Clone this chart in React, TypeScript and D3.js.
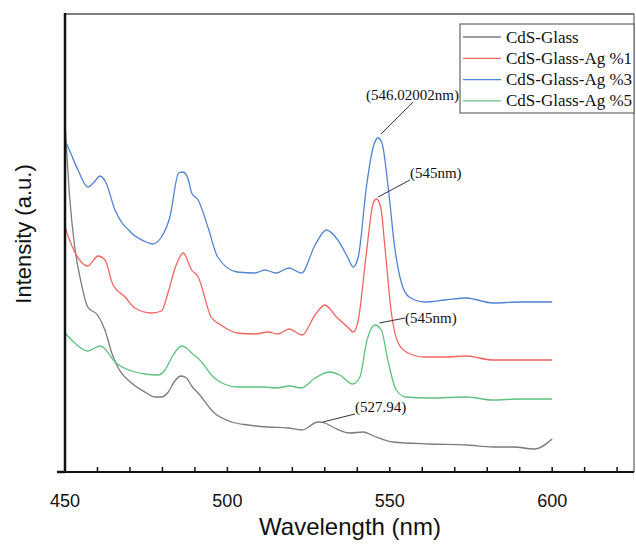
import React from "react";
import * as d3 from "d3";

// Wavelength (nm) / intensity (a.u.) pairs
const glassWl = [450, 451.5, 453, 455, 457, 460, 462.3, 464.4, 466.4, 470.5, 474.6, 477.7, 479.7, 481.8, 483.8, 485.7, 487.4, 489, 491, 496, 501.3, 506.4, 512.5, 518.7, 523, 527.9, 530, 533, 537.7, 541.8, 545, 551, 562, 573.6, 581.8, 588, 594.6, 600];
const glassI = [350, 272, 225, 189, 165, 157, 142, 119, 104, 89, 80, 75, 75, 80, 91, 96, 94, 86, 79, 59, 50, 47, 45, 44, 42, 50, 49, 44, 39, 40, 36, 30, 28, 27, 25, 25, 23, 33];

const ag1Wl = [450, 452, 455, 457, 460.2, 462.3, 464.8, 468.5, 471.5, 476.7, 479.7, 481.7, 484, 486.4, 489, 491, 495, 498, 503, 508.5, 512.5, 515.5, 519, 523, 527, 530, 533.6, 537, 538.8, 540.3, 542.8, 544.9, 545.9, 547.2, 548.5, 550.5, 552.6, 555.6, 560.8, 567, 573.6, 581.7, 590, 600];
const ag1I = [245, 227, 210, 206, 216, 212, 187, 175, 164, 159, 161, 179, 205, 219, 202, 195, 155, 147, 139, 138, 140, 138, 143, 137, 157, 167, 155, 145, 140, 152, 219, 269, 273, 265, 225, 159, 129, 119, 115, 115, 116, 112, 112, 112];

const ag3Wl = [450, 452, 454, 457, 459, 460.8, 462.5, 465.4, 470.5, 475, 477, 479.7, 482.3, 485, 486.3, 488, 489, 491, 494, 497, 503, 508.5, 511.5, 515, 519, 522.8, 527, 530.5, 534, 537, 538.7, 540.3, 542.8, 544.9, 546.4, 547.6, 549.5, 551.5, 553.6, 556, 560.8, 567, 573.6, 581.7, 590, 600];
const ag3I = [332, 317, 302, 285, 290, 296, 290, 262, 239, 230, 228, 235, 255, 299, 300, 292, 279, 272, 245, 215, 200, 199, 202, 199, 204, 199, 227, 242, 232, 215, 205, 215, 285, 325, 334, 329, 285, 225, 189, 175, 170, 172, 174, 169, 170, 170];

const ag5Wl = [450, 453, 457, 460.8, 462, 465.4, 470.5, 474.6, 478.7, 480.8, 483.3, 485.9, 487.4, 489, 491.5, 496, 499, 503, 511.5, 515, 519, 522.8, 527, 531.5, 534.6, 538.6, 540.8, 543, 545.4, 547.4, 549.4, 552, 555, 562, 573.6, 581.7, 590, 600];
const ag5I = [139, 129, 121, 126, 124, 110, 101, 98, 97, 102, 117, 126, 124, 119, 112, 94, 88, 85, 85, 84, 86, 84, 94, 100, 97, 88, 95, 132, 147, 142, 112, 82, 75, 74, 75, 72, 73, 73];

const seriesNames = ["CdS-Glass", "CdS-Glass-Ag %1", "CdS-Glass-Ag %3", "CdS-Glass-Ag %5"];
const seriesColors = ["#7c7c7c", "#f4645f", "#4f84d4", "#5ec27d"];

const xTicks = [450, 500, 550, 600];
const xMinorTicks = d3.range(450, 625, 10);

// Annotations: label, leader start (wl, intensity), leader end, text position
const annLabels = ["(546.02002nm)", "(545nm)", "(545nm)", "(527.94)"];
const annAnchorWl = [547.3, 546.4, 546.8, 529.4];
const annAnchorI = [338, 275, 149, 50];
const annEndWl = [557.2, 556.2, 554.7, 539.3];
const annEndI = [370, 292, 154, 58];
const annTextWl = [542.7, 556.2, 554.7, 539.3];
const annTextI = [372, 294, 149, 60];

export default function App() {
  const W = 636, H = 544;
  const left = 65, right = 634, top = 14, bottom = 472;
  const x = d3.scaleLinear().domain([450, 625.2]).range([left, right]);
  const y = d3.scaleLinear().domain([0, 458]).range([bottom, top]);
  const line = d3.line<[number, number]>().x(d => x(d[0])).y(d => y(d[1])).curve(d3.curveMonotoneX);

  const series = [
    { wl: glassWl, I: glassI },
    { wl: ag1Wl, I: ag1I },
    { wl: ag3Wl, I: ag3I },
    { wl: ag5Wl, I: ag5I },
  ];

  const sans = "'Liberation Sans', Arial, sans-serif";
  const serif = "'Liberation Serif', 'Times New Roman', serif";

  return (
    <svg width={W} height={H} style={{ position: "absolute", left: 0, top: 0, background: "#fff" }}>
      <defs>
        <clipPath id="plot"><rect x={left} y={top} width={right - left} height={bottom - top} /></clipPath>
      </defs>
      {/* frame top/right */}
      <line x1={left} x2={right} y1={top} y2={top} stroke="#555" strokeWidth={1.5} />
      <line x1={right} x2={right} y1={top} y2={bottom} stroke="#666" strokeWidth={1.2} />

      <g clipPath="url(#plot)">
        {series.map((s, i) => (
          <path key={i} d={line(s.wl.map((w, k) => [w, s.I[k]] as [number, number])) || ""}
            fill="none" stroke={seriesColors[i]} strokeWidth={1.3} />
        ))}
      </g>

      {/* annotations */}
      {annLabels.map((t, i) => (
        <g key={i}>
          <line x1={x(annAnchorWl[i])} y1={y(annAnchorI[i])} x2={x(annEndWl[i])} y2={y(annEndI[i])} stroke="#333" strokeWidth={1} />
          <text x={x(annTextWl[i])} y={y(annTextI[i])} fontFamily={serif} fontSize={15} fill="#111">{t}</text>
        </g>
      ))}

      {/* x axis */}
      <line x1={left} x2={right} y1={bottom} y2={bottom} stroke="#111" strokeWidth={2} />
      {xMinorTicks.map(t => (
        <line key={t} x1={x(t)} x2={x(t)} y1={bottom} y2={bottom - 5} stroke="#111" strokeWidth={1.5} />
      ))}
      {xTicks.map(t => (
        <text key={t} x={x(t)} y={507} textAnchor="middle" fontFamily={sans} fontSize={18} fill="#111">{t}</text>
      ))}
      <text x={350} y={535} textAnchor="middle" fontFamily={sans} fontSize={24} fill="#111">Wavelength (nm)</text>

      {/* y axis */}
      <line x1={left} x2={left} y1={top - 1} y2={bottom + 1} stroke="#111" strokeWidth={2.5} />
      <line x1={left - 8} x2={left} y1={bottom} y2={bottom} stroke="#111" strokeWidth={2.5} />
      <text transform={`translate(31,234) rotate(-90)`} textAnchor="middle" fontFamily={sans} fontSize={22} fill="#111">Intensity (a.u.)</text>

      {/* legend */}
      <rect x={460} y={24} width={174} height={89} fill="#fff" stroke="#666" strokeWidth={1.2} />
      {seriesNames.map((n, i) => (
        <g key={n}>
          <line x1={463} x2={501} y1={37 + i * 21.3} y2={37 + i * 21.3} stroke={seriesColors[i]} strokeWidth={1.3} />
          <text x={506} y={42.5 + i * 21.3} fontFamily={serif} fontSize={17} fill="#111">{n}</text>
        </g>
      ))}
    </svg>
  );
}
